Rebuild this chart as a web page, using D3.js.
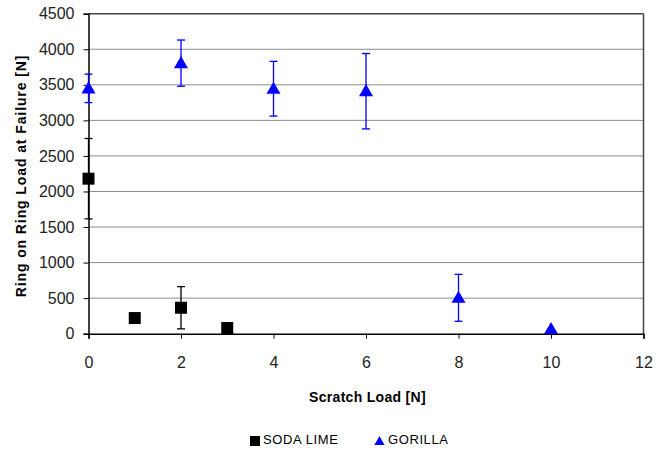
<!DOCTYPE html>
<html><head><meta charset="utf-8">
<script src="https://cdn.jsdelivr.net/npm/d3@7"></script>
<style>body{margin:0;background:#fff}svg{display:block}</style>
</head><body><svg id="c" width="667" height="454"></svg>
<script>
const sodaX = [0, 1, 2, 3];
const sodaY = [2180, 220, 365, 80];
const sodaErr = [565, 0, 297, 0];
const gorX = [0, 2, 4, 6, 8, 10];
const gorY = [3450, 3805, 3445, 3410, 505, 65];
const gorErr = [200, 325, 385, 530, 330, 0];
const xTicks = [0, 2, 4, 6, 8, 10, 12];
const yTicks = [0, 500, 1000, 1500, 2000, 2500, 3000, 3500, 4000, 4500];

const svg = d3.select("#c");
const L = 88.5, R = 643.5, T = 13.7, B = 333.7;
const x = d3.scaleLinear().domain([0, 12]).range([L, R]);
const y = d3.scaleLinear().domain([0, 4500]).range([B, T]);
const font = "'Liberation Sans', Arial, sans-serif";

// gridlines
svg.append("g").selectAll("line").data(yTicks.filter(v => v > 0 && v < 4500)).join("line")
  .attr("x1", L).attr("x2", R).attr("y1", d => y(d)).attr("y2", d => y(d))
  .attr("stroke", "#8c8c8c").attr("stroke-width", 1);
// top & right border
svg.append("line").attr("x1", L).attr("x2", R).attr("y1", T).attr("y2", T).attr("stroke", "#444").attr("stroke-width", 1.5);
svg.append("line").attr("x1", R).attr("x2", R).attr("y1", T).attr("y2", B).attr("stroke", "#444").attr("stroke-width", 1.5);

// axes
const yAxis = d3.axisLeft(y).tickValues(yTicks).tickSize(5).tickPadding(9).tickFormat(d3.format("d"));
const gy = svg.append("g").attr("transform", `translate(${L},0)`).call(yAxis);
const xAxis = d3.axisBottom(x).tickValues(xTicks).tickSize(5).tickPadding(18).tickFormat(d3.format("d"));
const gx = svg.append("g").attr("transform", `translate(0,${B})`).call(xAxis);
[gx, gy].forEach(g => {
  g.select(".domain").attr("stroke", "#000").attr("stroke-width", 1.5);
  g.selectAll(".tick line").attr("stroke", "#000");
  g.selectAll("text").attr("font-family", font).attr("font-size", 16).attr("fill", "#222");
});

// error bars
function errBars(xs, ys, es, color) {
  const g = svg.append("g").attr("stroke", color).attr("stroke-width", 1.3);
  xs.forEach((xv, i) => {
    if (!es[i]) return;
    const cx = x(xv), y1 = y(ys[i] + es[i]), y2 = y(ys[i] - es[i]);
    g.append("line").attr("x1", cx).attr("x2", cx).attr("y1", y1).attr("y2", y2);
    g.append("line").attr("x1", cx - 4).attr("x2", cx + 4).attr("y1", y1).attr("y2", y1);
    g.append("line").attr("x1", cx - 4).attr("x2", cx + 4).attr("y1", y2).attr("y2", y2);
  });
}
errBars(sodaX, sodaY, sodaErr, "#000");
errBars(gorX, gorY, gorErr, "#0000ff");

// markers
svg.append("g").selectAll("rect").data(sodaX).join("rect")
  .attr("x", (d, i) => x(d) - 6).attr("y", (d, i) => y(sodaY[i]) - 6)
  .attr("width", 12).attr("height", 12).attr("fill", "#000");
const tri = d3.symbol().type(d3.symbolTriangle).size(85);
svg.append("g").selectAll("path").data(gorX).join("path")
  .attr("d", tri).attr("transform", (d, i) => `translate(${x(d)},${y(gorY[i]) + 1})`)
  .attr("fill", "#0000ff");

// axis titles
svg.append("text").attr("x", 367.5).attr("y", 401.5).attr("text-anchor", "middle")
  .attr("font-family", font).attr("font-size", 14).attr("font-weight", "bold")
  .attr("letter-spacing", 0.3).text("Scratch Load [N]");
svg.append("text").attr("transform", `translate(26,176) rotate(-90)`).attr("text-anchor", "middle")
  .attr("font-family", font).attr("font-size", 14).attr("font-weight", "bold")
  .attr("letter-spacing", 0.9).text("Ring on Ring Load at Failure [N]");

// legend
const lg = svg.append("g").attr("font-family", font).attr("font-size", 13).attr("letter-spacing", 0.6);
lg.append("rect").attr("x", 250).attr("y", 436).attr("width", 10).attr("height", 10).attr("fill", "#000");
lg.append("text").attr("x", 263).attr("y", 444).text("SODA LIME");
lg.append("path").attr("d", d3.symbol().type(d3.symbolTriangle).size(45)).attr("transform", "translate(379.5,442)").attr("fill", "#0000ff");
lg.append("text").attr("x", 388).attr("y", 444).text("GORILLA");
</script></body></html>
